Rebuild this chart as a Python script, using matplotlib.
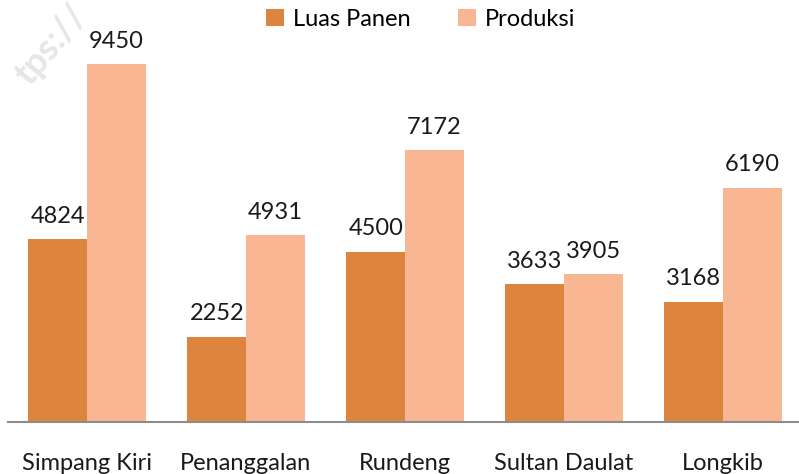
import matplotlib.pyplot as plt
import numpy as np

# data
districts = ['Simpang Kiri', 'Penanggalan', 'Rundeng', 'Sultan Daulat', 'Longkib']
luas_panen = [4824, 2252, 4500, 3633, 3168]
produksi = [9450, 4931, 7172, 3905, 6190]

plt.rcParams['font.family'] = ['Lato', 'DejaVu Sans']

fig = plt.figure(figsize=(7.99, 4.74), dpi=100)
ax = fig.add_axes([7.5 / 799, 52 / 474, 795 / 799, 422 / 474])

x = np.arange(len(districts))
w = 0.368
bars1 = ax.bar(x - w / 2, luas_panen, w, color='#DD853F', label='Luas Panen')
bars2 = ax.bar(x + w / 2, produksi, w, color='#F8B692', label='Produksi')

# value labels above each bar
for bars in (bars1, bars2):
    for b in bars:
        ax.annotate(str(int(b.get_height())),
                    (b.get_x() + b.get_width() / 2, b.get_height()),
                    xytext=(0, 9), textcoords='offset points',
                    ha='center', va='bottom', fontsize=17, color='#1a1a1a')

ax.set_xlim(-0.5, 4.5)
ax.set_ylim(0, 11140)
ax.set_yticks([])
ax.set_xticks(x)
ax.set_xticklabels(districts, fontsize=17, color='#1a1a1a')
ax.tick_params(axis='x', length=0, pad=22)

for side in ['top', 'right', 'left']:
    ax.spines[side].set_visible(False)
ax.spines['bottom'].set_color('#8c8c8c')
ax.spines['bottom'].set_linewidth(1.5)

ax.legend(loc='upper center', bbox_to_anchor=(0.52, 1.03), ncol=2, frameon=False,
          fontsize=17, handlelength=0.75, handleheight=0.75, handletextpad=0.4,
          columnspacing=2.0)

# faint watermark in the corner
fig.text(0.065, 0.905, 'tps://', rotation=50, fontsize=26, color='#e6e6e6',
         ha='center', va='center', zorder=0, fontweight='bold')

fig.savefig('out.png', dpi=100)
